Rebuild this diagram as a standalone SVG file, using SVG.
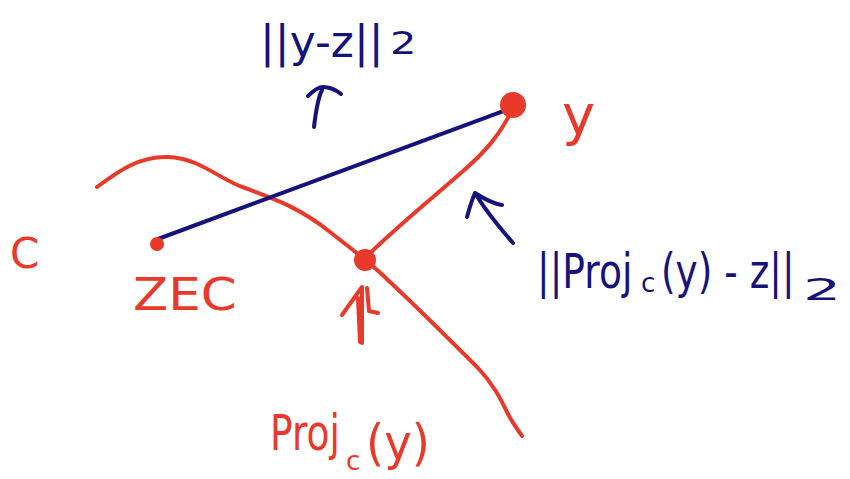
<svg xmlns="http://www.w3.org/2000/svg" width="850" height="479" viewBox="0 0 850 479">
<style>
.r{stroke:#E8392A;fill:none;stroke-width:4;stroke-linecap:round;stroke-linejoin:round}
.b{stroke:#15127C;fill:none;stroke-width:4;stroke-linecap:round;stroke-linejoin:round}
.rt{fill:#E8392A;font-family:"DejaVu Sans",sans-serif}
.bt{fill:#15127C;font-family:"DejaVu Sans",sans-serif}
</style>
<rect width="850" height="479" fill="#fff"/>
<g id="set-C">
<path class="r" d="M97,187 C120,170 140,156 168,157 C200,158 220,180 245,188 C275,199 300,208 330,232 C350,248 370,262 390,282 C420,310 450,340 478,368 C495,386 502,402 508,414 C513,424 518,430 522,436"/>
<text class="rt" x="10" y="268" font-size="42">C</text>
</g>
<g id="connectors">
<path class="b" d="M158,239 L512,108"/>
<path class="r" d="M365,258 C395,228 430,200 462,172 C485,152 500,135 512,110"/>
</g>
<g id="z">
<circle cx="157" cy="244" r="7" fill="#E8392A"/>
<text class="rt" font-size="44" transform="translate(133 310) scale(1.17 1)">ZEC</text>
</g>
<g id="proj-point">
<circle cx="365" cy="260" r="11" fill="#E8392A"/>
<path class="r" d="M342,315 L362,287 L362,343 M358,298 L360,342 M367,288 L369,311 L378,313"/>
</g>
<g id="y">
<circle cx="513" cy="105" r="13" fill="#E8392A"/>
<text class="rt" x="562" y="134" font-size="56">y</text>
</g>
<g id="label-dist-yz">
<path class="b" d="M314,127 C316,110 318,98 322,90 M308,96 C314,90 318,87 323,87 C330,87 336,90 341,94"/>
<text class="bt" x="260" y="57" font-size="44">||y-z||</text>
<text class="bt" font-size="32" transform="translate(390 54) scale(1.3 1)">2</text>
</g>
<g id="label-dist-proj">
<path class="b" d="M513,243 C500,228 485,210 475,193 M475,193 C471,202 469,210 467,217 M475,193 C486,200 494,204 502,205"/>
<text class="bt" font-size="48" transform="translate(537 288) scale(0.784 1)">||Proj</text>
<text class="bt" x="641" y="292" font-size="26">c</text>
<text class="bt" font-size="48" transform="translate(661 288) scale(0.78 1)">(y) - z||</text>
<text class="bt" font-size="30" transform="translate(803 300) scale(2 1)">2</text>
</g>
<g id="label-proj">
<text class="rt" font-size="50" transform="translate(270 450) scale(0.75 1)">Proj</text>
<text class="rt" x="346" y="470" font-size="26">c</text>
<text class="rt" font-size="50" transform="translate(366 460) scale(0.93 1)">(y)</text>
</g>
</svg>
